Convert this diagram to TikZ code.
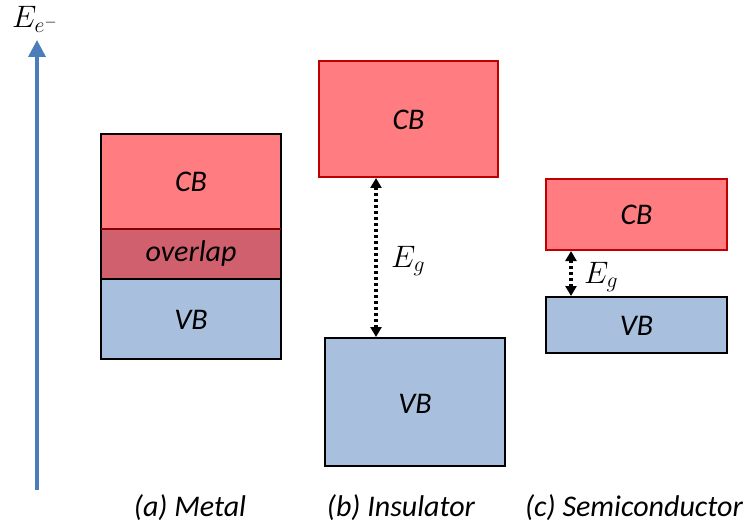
\RequirePackage{fix-cm}
\documentclass[tikz,border=0pt]{standalone}
\usepackage{fontspec}
\setmainfont{Carlito}
\usetikzlibrary{arrows.meta}
\definecolor{cbfill}{RGB}{255,124,128}
\definecolor{cbdraw}{RGB}{192,0,0}
\definecolor{ovfill}{RGB}{208,96,110}
\definecolor{vbfill}{RGB}{168,192,222}
\definecolor{axisblue}{RGB}{74,126,187}
\tikzset{
  cbbox/.style={fill=cbfill, draw=cbdraw, line width=1.8pt},
  vbbox/.style={fill=vbfill, draw=black, line width=1.8pt},
  ovbox/.style={fill=ovfill, draw=black, line width=1.8pt},
  bandtext/.style={font=\fontsize{30}{34}\selectfont\itshape},
  captext/.style={font=\fontsize{30}{34}\selectfont\itshape, anchor=base},
  gap/.style={line width=3.2pt, dash pattern=on 3pt off 3pt,
    {Triangle[width=11pt,length=10pt]}-{Triangle[width=11pt,length=10pt]}},
  eglabel/.style={font=\fontsize{31}{35}\selectfont, anchor=base west}
}
\begin{document}
\begin{tikzpicture}[x=1pt,y=-1pt]
\useasboundingbox[fill=white] (0,0) rectangle (750,524);
% energy axis
\coordinate (axbot) at (37,490);
\coordinate (axtop) at (37,40);
\draw[axisblue, line width=3.5pt, -{Triangle[width=17pt,length=17pt]}] (axbot) -- (axtop);
\node[font=\fontsize{31}{35}\selectfont, anchor=base west, inner sep=0pt] (elab) at (12,28) {$E_{e^-}$};
% metal
\draw[black, line width=1.8pt, fill=cbfill] (101,134) rectangle (281,229);
\node[bandtext] (mcb) at (191,182) {CB};
\draw[ovbox] (101,229) rectangle (281,279);
\draw[cbdraw!70!black, line width=1.8pt] (101,229) -- (281,229);
\node[bandtext] (mov) at (191,254) {overlap};
\draw[vbbox] (101,279) rectangle (281,359);
\node[bandtext] (mvb) at (191,320) {VB};
% insulator
\draw[cbbox] (319,61) rectangle (498,177);
\node[bandtext] (icb) at (408.5,120) {CB};
\draw[vbbox] (325,338) rectangle (505,466);
\node[bandtext] (ivb) at (415,404) {VB};
\coordinate (itop) at (376,178);
\coordinate (ibot) at (376,337);
\draw[gap] (itop) -- (ibot);
\node[eglabel, inner sep=0pt] (ieg) at (391,267) {$E_g$};
% semiconductor
\draw[cbbox] (546,179) rectangle (727,250);
\node[bandtext] (scb) at (636.5,215) {CB};
\draw[vbbox] (546,297) rectangle (727,353);
\node[bandtext] (svb) at (636.5,326) {VB};
\coordinate (stop) at (571,251);
\coordinate (sbot) at (571,296);
\draw[gap] (stop) -- (sbot);
\node[eglabel, inner sep=0pt] (seg) at (584,283) {$E_g$};
% captions
\node[captext] (capa) at (190,516) {(a) Metal};
\node[captext] (capb) at (401,516) {(b) Insulator};
\node[captext] (capc) at (634,516) {(c) Semiconductor};
\end{tikzpicture}
\end{document}
